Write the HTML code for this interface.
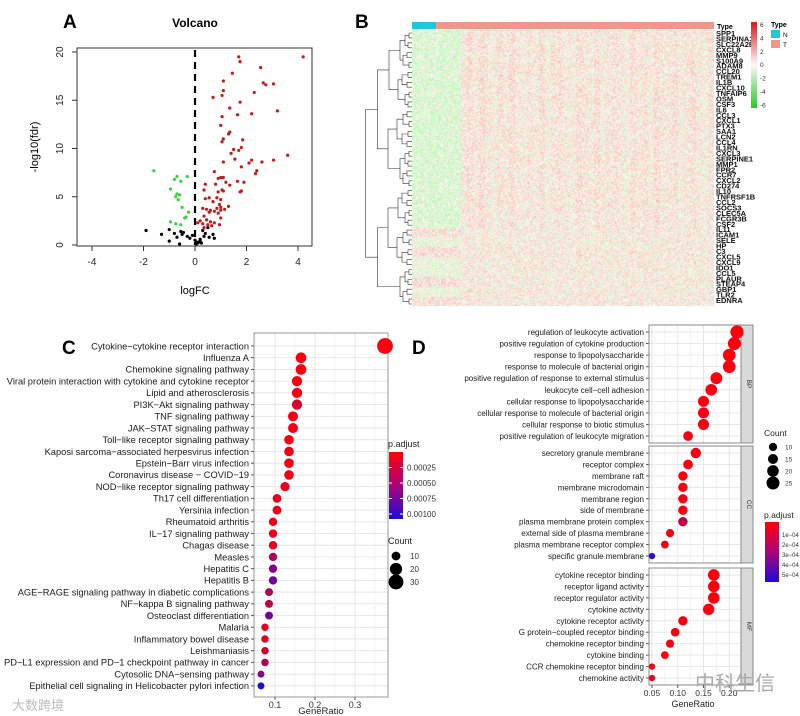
<!DOCTYPE html>
<html><head><meta charset="utf-8">
<style>
html,body{margin:0;padding:0;background:#fff;}
#wrap{position:relative;width:800px;height:716px;overflow:hidden;font-family:"Liberation Sans","Noto Sans CJK SC",sans-serif;}
svg{position:absolute;left:0;top:0;}
#heat{position:absolute;left:412px;top:30px;}
</style></head>
<body>
<div id="wrap">
<canvas id="heat" width="302" height="276"></canvas>
<svg id="fig" width="800" height="716" xmlns="http://www.w3.org/2000/svg" font-family="Liberation Sans, sans-serif"></svg>
</div>
<script>
// ---------- Panel A data ----------
const redX=[1.7,1.75,4.2,2.55,1.45,1.1,2.65,2.75,3.05,1.1,2.3,0.7,1.05,1.75,1.35,3.2,1.65,2.2,1.05,1.0,1.3,1.35,1.1,1.85,1.05,1.5,1.4,1.7,1.8,1.55,2.1,2.2,2.6,3.05,3.6,1.8,2.4,2.35,1.1,0.75,1.0,0.9,1.1,1.2,0.8,1.35,1.65,1.9,0.4,1.05,0.35,0.9,1.1,1.75,1.8,0.55,0.85,1.0,0.4,0.7,0.95,1.3,0.3,0.45,0.6,0.75,0.85,1.0,1.15,0.55,0.9,1.0,0.35,1.0,0.45,0.2,0.6,0.75,0.3,0.5,0.65,0.95,0.1,0.35];
const redY=[19.5,19,19.5,18.4,17.8,17,16.8,16.6,16.7,16,15.8,15.3,15.5,14.8,14.2,13.9,13.5,13.6,13.3,12.4,11.5,11.7,11,10.9,10.7,9.9,9.5,9.8,10.1,8.9,8.5,8.8,8.6,8.8,9.3,8.1,7.7,7.4,8.6,7.6,7.0,6.9,7.0,6.5,6.3,6.2,6.6,6.5,6.3,5.7,5.7,5.5,5.6,5.5,5.6,4.9,4.9,4.7,4.8,4.5,4.2,4.0,3.8,3.7,3.6,3.5,3.8,3.6,3.7,3.4,3.3,3.9,3.0,2.8,2.6,2.5,2.4,2.3,2.2,2.1,2.0,2.1,2.3,1.8];
const greenX=[-1.6,-0.7,-0.3,-0.8,-0.55,-0.95,-0.7,-0.6,-0.75,-0.65,-0.5,-0.25,-0.35,-0.4,-0.95,-0.75,-0.55];
const greenY=[7.7,7.1,7.1,6.8,6.6,5.8,5.3,5.2,5.0,4.7,3.9,3.4,2.9,2.8,2.4,2.2,2.1];
const blackX=[-1.9,-1.3,-1.0,-1.0,-0.8,-0.7,-0.6,-0.55,-0.5,-0.45,-0.3,-0.2,-0.1,0.0,0.05,0.1,0.15,0.2,0.25,0.3,0.4,0.5,0.55,0.7,0.75,0.35,0.05,0.2];
const blackY=[1.5,1.1,1.6,0.4,1.2,0.8,0.1,1.4,1.1,1.3,0.9,0.7,1.0,0.5,0.3,0.2,0.3,0.4,0.2,1.5,1.2,1.8,0.8,1.1,0.7,0.9,0.1,0.6];
const volXTicks=[-4,-2,0,2,4];
const volYTicks=[0,5,10,15,20];

// ---------- Panel B data ----------
const heatColBias=[-2,-2,-2,-2,-2,-2,-2,-2,0.3,1.2,0.2,1.4,0.4,-0.5,1.0,0.3,1.5,0.2,-0.4,0.8,0.2,1.3,-0.6,0.5,1.1,0.2,-0.3,1.2,0.6,0.1,1.4,-0.2,0.3,1.0,0.5,-0.7,1.1,0.2,0.9,-0.3,1.3,0.4,0.2,1.0,-0.5,0.6,1.2,0.1,-0.4,0.8];
const heatRowBias=[1,1,1,1,1,1,1,1,1,1,1,1,1,1,1,1,1,1,1,1,0.3,-0.2,0.5,0.2,-0.3,0.4,0.1,0.3];
const geneLabels=["SPP1","SERPINA3","SLC22A2B","CXCL8","MMP9","S100A9","ADAM8","CCL20","TREM1","IL1B","CXCL10","TNFAIP6","OSM","CSF3","IL6","CCL3","CXCL1","PTX3","SAA1","LCN2","CCL4","IL1RN","CXCL3","SERPINE1","MMP1","FPR2","CCR7","CXCL2","CD274","IL10","TNFRSF1B","CCL2","SOCS3","CLEC5A","FCGR3B","CSF2","IL11","ICAM1","SELE","HP","C3","CXCL5","CXCL9","IDO1","CCL5","PLAUR","STEAP4","GBP1","TLR2","EDNRA"];

// ---------- Panel C data ----------
const keggTerms=["Cytokine−cytokine receptor interaction","Influenza A","Chemokine signaling pathway","Viral protein interaction with cytokine and cytokine receptor","Lipid and atherosclerosis","PI3K−Akt signaling pathway","TNF signaling pathway","JAK−STAT signaling pathway","Toll−like receptor signaling pathway","Kaposi sarcoma−associated herpesvirus infection","Epstein−Barr virus infection","Coronavirus disease − COVID−19","NOD−like receptor signaling pathway","Th17 cell differentiation","Yersinia infection","Rheumatoid arthritis","IL−17 signaling pathway","Chagas disease","Measles","Hepatitis C","Hepatitis B","AGE−RAGE signaling pathway in diabetic complications","NF−kappa B signaling pathway","Osteoclast differentiation","Malaria","Inflammatory bowel disease","Leishmaniasis","PD−L1 expression and PD−1 checkpoint pathway in cancer","Cytosolic DNA−sensing pathway","Epithelial cell signaling in Helicobacter pylori infection"];
const keggRatio=[0.375,0.165,0.165,0.155,0.155,0.155,0.145,0.145,0.135,0.135,0.135,0.135,0.125,0.105,0.105,0.095,0.095,0.095,0.095,0.095,0.095,0.085,0.085,0.085,0.075,0.075,0.075,0.075,0.065,0.065];
const keggCount=[34,15,15,14,14,14,13,13,12,12,12,12,11,10,10,9,9,9,9,9,9,8,8,8,7,7,7,7,6,6];
const keggPadj=[0.00002,0.00003,0.00003,0.00004,0.00005,0.0002,0.00005,0.00006,0.00006,0.00007,0.00007,0.00008,0.00009,0.0001,0.0001,0.0001,0.0001,0.00012,0.0004,0.0006,0.0007,0.0004,0.0003,0.0007,0.00012,0.00015,0.0002,0.0004,0.0006,0.00105];
const keggXTicks=[0.1,0.2,0.3];
const keggPTicks=[0.00025,0.00050,0.00075,0.00100];
const keggCountLegend=[10,20,30];

// ---------- Panel D data ----------
const bpTerms=["regulation of leukocyte activation","positive regulation of cytokine production","response to lipopolysaccharide","response to molecule of bacterial origin","positive regulation of response to external stimulus","leukocyte cell−cell adhesion","cellular response to lipopolysaccharide","cellular response to molecule of bacterial origin","cellular response to biotic stimulus","positive regulation of leukocyte migration"];
const bpRatio=[0.215,0.21,0.20,0.20,0.175,0.165,0.15,0.15,0.15,0.12];
const bpCount=[26,25,24,24,21,20,18,18,18,14];
const bpPadj=[0.00001,0.00001,0.00001,0.00001,0.00001,0.00001,0.00001,0.00001,0.00001,0.00002];
const ccTerms=["secretory granule membrane","receptor complex","membrane raft","membrane microdomain","membrane region","side of membrane","plasma membrane protein complex","external side of plasma membrane","plasma membrane receptor complex","specific granule membrane"];
const ccRatio=[0.135,0.12,0.11,0.11,0.11,0.11,0.11,0.085,0.075,0.05];
const ccCount=[16,14,13,13,13,13,13,10,9,6];
const ccPadj=[0.00002,0.00002,0.00002,0.00002,0.00002,0.00002,0.00018,0.00003,0.00003,0.00055];
const mfTerms=["cytokine receptor binding","receptor ligand activity","receptor regulator activity","cytokine activity","cytokine receptor activity","G protein−coupled receptor binding","chemokine receptor binding","cytokine binding","CCR chemokine receptor binding","chemokine activity"];
const mfRatio=[0.17,0.17,0.17,0.16,0.11,0.095,0.085,0.075,0.05,0.05];
const mfCount=[20,20,20,19,13,11,10,9,6,6];
const mfPadj=[0.00001,0.00001,0.00001,0.00001,0.00002,0.00002,0.00002,0.00002,0.00003,0.00003];
const goXTicks=[0.05,0.10,0.15,0.20];
const goPTicks=["1e−04","2e−04","3e−04","4e−04","5e−04"];
const goCountLegend=[10,15,20,25];

const NS="http://www.w3.org/2000/svg";
const svg=document.getElementById('fig');
function el(tag,attrs,parent,text){const e=document.createElementNS(NS,tag);for(const k in attrs)e.setAttribute(k,attrs[k]);if(text!==undefined)e.textContent=text;(parent||svg).appendChild(e);return e;}
function lerp(a,b,t){return a+(b-a)*t;}
function padjColor(t){t=Math.max(0,Math.min(1,t));const r=Math.round(lerp(255,30,t)),g=Math.round(lerp(0,10,t)),b=Math.round(lerp(10,220,t));return `rgb(${r},${g},${b})`;}

// ================= Panel A =================
(function(){
const g=el('g',{});  
const x0=195,ux=25.75,y0=245,uy=9.65;
const sx=v=>x0+v*ux, sy=v=>y0-v*uy;
let t=el('text',{x:63,y:28,'font-size':19,'font-weight':'bold'},g,'A');  
t=el('text',{x:195,y:27,'font-size':12,'font-weight':'bold','text-anchor':'middle'},g,'Volcano');  
const box=el('rect',{x:77,y:48,width:235,height:198,fill:'none',stroke:'#333','stroke-width':1},g);  
volXTicks.forEach(v=>{el('line',{x1:sx(v),x2:sx(v),y1:246,y2:251,stroke:'#333'},g);const tt=el('text',{x:sx(v),y:265,'font-size':10,'text-anchor':'middle',fill:'#222'},g,v);  });
volYTicks.forEach(v=>{el('line',{x1:72,x2:77,y1:sy(v),y2:sy(v),stroke:'#333'},g);const tt=el('text',{x:63,y:sy(v),'font-size':10,'text-anchor':'middle',fill:'#222',transform:`rotate(-90 63 ${sy(v)})`},g,v);  });
t=el('text',{x:195,y:294,'font-size':11,'text-anchor':'middle'},g,'logFC');  
t=el('text',{x:38,y:147,'font-size':11,'text-anchor':'middle',transform:'rotate(-90 38 147)'},g,'-log10(fdr)');  
const dl=el('line',{x1:sx(0),x2:sx(0),y1:50,y2:245,stroke:'#000','stroke-width':2.2,'stroke-dasharray':'7,5'},g);  
const pts=(xs,ys,col,name)=>xs.forEach((x,i)=>{const c=el('circle',{cx:sx(x),cy:sy(ys[i]),r:1.6,fill:col},g);});
pts(blackX,blackY,'#000','point-ns');
pts(greenX,greenY,'#3bd23b','point-down');
pts(redX,redY,'#c81818','point-up');
})();

// ================= Panel B =================
(function(){
const g=el('g',{});  
let t=el('text',{x:355,y:28,'font-size':19,'font-weight':'bold'},g,'B');  
let r=el('rect',{x:412,y:22,width:24,height:7,fill:'#1ec8d8'},g);  
r=el('rect',{x:436,y:22,width:278,height:7,fill:'#f0968c'},g);  
t=el('text',{x:717,y:29,'font-size':7,'font-weight':'bold'},g,'Type');  
geneLabels.forEach((s,i)=>{const tt=el('text',{x:716,y:36+i*5.45,'font-size':7.5,'font-weight':'bold',fill:'#111'},g,s);});
const defs=el('defs',{},g);
const lg=el('linearGradient',{id:'hg',x1:0,y1:0,x2:0,y2:1},defs);
el('stop',{offset:'0','stop-color':'#d81818'},lg);el('stop',{offset:'0.5','stop-color':'#fff8f8'},lg);el('stop',{offset:'1','stop-color':'#22cc22'},lg);
r=el('rect',{x:751,y:22,width:6,height:86,fill:'url(#hg)'},g);  
[6,4,2,0,-2,-4,-6].forEach((v,i)=>{const tt=el('text',{x:760,y:27+i*13.4,'font-size':6.5,fill:'#333'},g,v);});
t=el('text',{x:771,y:27,'font-size':7,'font-weight':'bold'},g,'Type');  
r=el('rect',{x:771,y:30,width:9,height:8,fill:'#1ec8d8'},g);  
r=el('rect',{x:771,y:40,width:9,height:8,fill:'#f0968c'},g);  
el('text',{x:783,y:37,'font-size':6.5},g,'N'); el('text',{x:783,y:47,'font-size':6.5},g,'T');
const dg=el('g',{stroke:'#333','stroke-width':0.6,fill:'none'},g);  
const n=56, top=33, bot=304;
const ys=[]; for(let i=0;i<n;i++) ys.push(top+i*(bot-top)/(n-1));
let level=ys.map(y=>({y:y,x:412}));
let depth=0;
while(level.length>1){const nx=[];depth++;for(let i=0;i<level.length;i+=2){if(i+1<level.length){const a=level[i],b=level[i+1];const xx=Math.min(a.x,b.x)-3-(depth>3?depth*1.5:((i/2)%3));el('path',{d:`M${a.x},${a.y}H${xx}V${b.y}H${b.x}`},dg);nx.push({y:(a.y+b.y)/2,x:xx});}else nx.push(level[i]);}level=nx;}
const cv=document.getElementById('heat');const ctx=cv.getContext('2d');
const W=302,H=276;const img=ctx.createImageData(W,H);
function hsh(a,b){let h=(a*374761393+b*668265263)|0;h=(h^(h>>>13))*1274126177;h=h^(h>>>16);return ((h>>>0)%1000)/1000;}
for(let x=0;x<W;x++){const ci=Math.floor(x/W*heatColBias.length);const cb=heatColBias[ci];
 for(let y=0;y<H;y++){const ri=Math.floor(y/H*heatRowBias.length);const rb=heatRowBias[ri];
  let v=(hsh(x,y)-0.45)*2.4+(cb<-1?(rb>0.5?-0.9:(rb>0.2?0.6:-0.4)):cb*0.3*rb+0.2);
  let R,G,B;
  if(v>=0){const t=Math.min(1,v/3);R=Math.round(252-8*t);G=Math.round(246-90*t);B=Math.round(240-95*t);}
  else{const t=Math.min(1,-v/3);R=Math.round(244-90*t);G=Math.round(250-10*t);B=Math.round(238-90*t);}
  const k=(y*W+x)*4;img.data[k]=R;img.data[k+1]=G;img.data[k+2]=B;img.data[k+3]=255;}}
ctx.putImageData(img,0,0);
})();

// ================= Panel C =================
(function(){
const g=el('g',{});  
const L=254,R=388,T=333,B=697;
const sx=v=>235+v*400;
const y0=346,dy=11.72;
const sy=i=>y0+i*dy;
let t=el('text',{x:62,y:354,'font-size':19,'font-weight':'bold'},g,'C');  
el('rect',{x:L,y:T,width:R-L,height:B-T,fill:'#fff'},g);
for(let v=0.05;v<=0.36;v+=0.1){el('line',{x1:sx(v),x2:sx(v),y1:T,y2:B,stroke:'#f0f0f0','stroke-width':0.6},g);}
keggXTicks.forEach(v=>el('line',{x1:sx(v),x2:sx(v),y1:T,y2:B,stroke:'#e4e4e4','stroke-width':0.9},g));
keggTerms.forEach((s,i)=>{el('line',{x1:L,x2:R,y1:sy(i),y2:sy(i),stroke:'#e4e4e4','stroke-width':0.9},g);});
const fr=el('rect',{x:L,y:T,width:R-L,height:B-T,fill:'none',stroke:'#999','stroke-width':1},g);  
keggTerms.forEach((s,i)=>{const tt=el('text',{x:L-5,y:sy(i)+3.3,'font-size':9.3,'text-anchor':'end',fill:'#1a1a1a'},g,s);el('line',{x1:L-3,x2:L,y1:sy(i),y2:sy(i),stroke:'#555'},g);});
keggXTicks.forEach(v=>{el('line',{x1:sx(v),x2:sx(v),y1:B,y2:B+3,stroke:'#555'},g);const tt=el('text',{x:sx(v),y:B+11,'font-size':9,'text-anchor':'middle',fill:'#333'},g,v);});
t=el('text',{x:321,y:714,'font-size':9.5,'text-anchor':'middle',fill:'#222'},g,'GeneRatio');  
const rad=c=>0.3+Math.sqrt(c)*1.3;
keggRatio.forEach((v,i)=>{const c=el('circle',{cx:sx(v),cy:sy(i),r:rad(keggCount[i]),fill:padjColor(keggPadj[i]/0.00108)},g);});
t=el('text',{x:388,y:447,'font-size':9,fill:'#222'},g,'p.adjust');  
const defs=el('defs',{},g);const lg=el('linearGradient',{id:'cg',x1:0,y1:0,x2:0,y2:1},defs);
el('stop',{offset:'0','stop-color':'rgb(255,0,10)'},lg);el('stop',{offset:'0.5','stop-color':'rgb(170,5,120)'},lg);el('stop',{offset:'1','stop-color':'rgb(30,10,220)'},lg);
const cb=el('rect',{x:389,y:452,width:14,height:67,fill:'url(#cg)'},g);  
keggPTicks.forEach(v=>{const y=452+v/0.00108*67;el('line',{x1:389,x2:392,y1:y,y2:y,stroke:'#fff'},g);el('line',{x1:400,x2:403,y1:y,y2:y,stroke:'#fff'},g);const tt=el('text',{x:407,y:y+3,'font-size':8,fill:'#333'},g,v.toFixed(5));});
t=el('text',{x:388,y:544,'font-size':9,fill:'#222'},g,'Count');  
keggCountLegend.forEach((c,i)=>{const y=556+i*13;const cc=el('circle',{cx:396,cy:y,r:rad(c),fill:'#000'},g);const tt=el('text',{x:410,y:y+3,'font-size':8,fill:'#333'},g,c);});
})();

// ================= Panel D =================
(function(){
const g=el('g',{});  
let t=el('text',{x:412,y:354,'font-size':19,'font-weight':'bold'},g,'D');  
const L=649,R=741;
const sx=v=>652+(v-0.05)*515;
const rad=c=>Math.sqrt(c)*1.3;
const facets=[{name:'BP',top:325,bot:443,terms:bpTerms,ratio:bpRatio,count:bpCount,padj:bpPadj},
 {name:'CC',top:446,bot:563,terms:ccTerms,ratio:ccRatio,count:ccCount,padj:ccPadj},
 {name:'MF',top:568,bot:685,terms:mfTerms,ratio:mfRatio,count:mfCount,padj:mfPadj}];
facets.forEach(f=>{
 const fg=el('g',{},g);  
 el('rect',{x:L,y:f.top,width:R-L,height:f.bot-f.top,fill:'#fff'},fg);
 const dy=(f.bot-f.top-14)/9; const sy=i=>f.top+7+i*dy;
 for(let v=0.075;v<0.24;v+=0.05) el('line',{x1:sx(v),x2:sx(v),y1:f.top,y2:f.bot,stroke:'#f0f0f0','stroke-width':0.6},fg);
 goXTicks.forEach(v=>el('line',{x1:sx(v),x2:sx(v),y1:f.top,y2:f.bot,stroke:'#e4e4e4','stroke-width':0.9},fg));
 f.terms.forEach((s,i)=>{el('line',{x1:L,x2:R,y1:sy(i),y2:sy(i),stroke:'#e4e4e4','stroke-width':0.9},fg);const tt=el('text',{x:L-5,y:sy(i)+3,'font-size':8,'text-anchor':'end',fill:'#1a1a1a'},fg,s);el('line',{x1:L-3,x2:L,y1:sy(i),y2:sy(i),stroke:'#555'},fg);});
 el('rect',{x:L,y:f.top,width:R-L,height:f.bot-f.top,fill:'none',stroke:'#888','stroke-width':1},fg);
 const st=el('rect',{x:R,y:f.top,width:12,height:f.bot-f.top,fill:'#d9d9d9',stroke:'#888','stroke-width':1},fg);  
 const my=(f.top+f.bot)/2; const tt=el('text',{x:R+6,y:my,'font-size':6.5,'text-anchor':'middle',fill:'#333',transform:`rotate(90 ${R+6} ${my})`},fg,f.name);  
 f.ratio.forEach((v,i)=>{const c=el('circle',{cx:sx(v),cy:sy(i),r:rad(f.count[i]),fill:padjColor(f.padj[i]/0.0006)},fg);});
});
goXTicks.forEach(v=>{el('line',{x1:sx(v),x2:sx(v),y1:685,y2:688,stroke:'#555'},g);const tt=el('text',{x:sx(v),y:696,'font-size':8.5,'text-anchor':'middle',fill:'#333'},g,v.toFixed(2));});
t=el('text',{x:693,y:707,'font-size':9,'text-anchor':'middle',fill:'#222'},g,'GeneRatio');  
t=el('text',{x:764,y:436,'font-size':8.5,fill:'#222'},g,'Count');  
goCountLegend.forEach((c,i)=>{const y=447+i*12;const cc=el('circle',{cx:773,cy:y,r:rad(c),fill:'#000'},g);const tt=el('text',{x:785,y:y+2.5,'font-size':6.5,fill:'#333'},g,c);});
t=el('text',{x:764,y:518,'font-size':8.5,fill:'#222'},g,'p.adjust');  
const defs=el('defs',{},g);const lg=el('linearGradient',{id:'dg',x1:0,y1:0,x2:0,y2:1},defs);
el('stop',{offset:'0','stop-color':'rgb(255,0,10)'},lg);el('stop',{offset:'0.5','stop-color':'rgb(170,5,120)'},lg);el('stop',{offset:'1','stop-color':'rgb(30,10,220)'},lg);
const cb=el('rect',{x:765,y:522,width:14,height:60,fill:'url(#dg)'},g);  
goPTicks.forEach((s,i)=>{const y=535+i*10;const tt=el('text',{x:782,y:y+2,'font-size':6,fill:'#333'},g,s);});
})();

let w=el('text',{x:695,y:690,'font-size':20,fill:'#aaa','font-family':'Noto Sans CJK SC, sans-serif'},svg,'中科生信');  
w=el('text',{x:12,y:710,'font-size':13,fill:'#bbb','font-family':'Noto Sans CJK SC, sans-serif'},svg,'大数跨境');  
</script>
</body></html>
